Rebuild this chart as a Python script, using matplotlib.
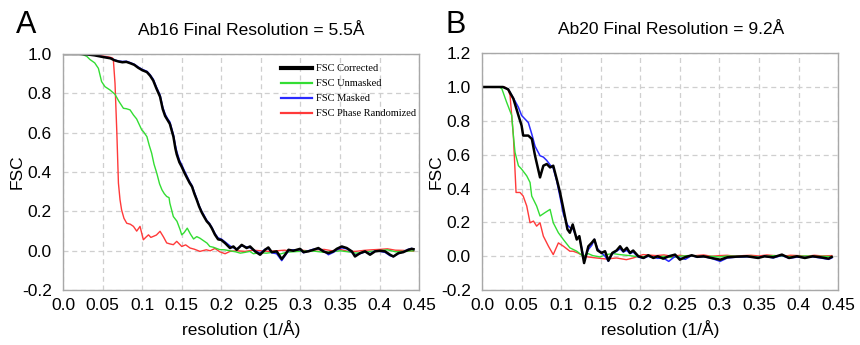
import matplotlib.pyplot as plt

plt.rcParams['font.family'] = ['Liberation Sans', 'DejaVu Sans']

# ---------------- panel A : Ab16 ----------------
a_corr_x = [0.000, 0.020, 0.030, 0.040, 0.050, 0.060, 0.065, 0.070, 0.075, 0.080, 0.085, 0.090, 0.095, 0.100,
            0.106, 0.110, 0.114, 0.118, 0.1226, 0.126, 0.129, 0.132, 0.135, 0.1395, 0.142, 0.1437, 0.147, 0.150,
            0.153, 0.156, 0.160, 0.163, 0.166, 0.169, 0.172, 0.1753, 0.178, 0.1816, 0.185, 0.188, 0.192, 0.196,
            0.200, 0.2048, 0.211, 0.2153, 0.2195, 0.2258, 0.232, 0.2364, 0.2427, 0.249, 0.2553, 0.2595, 0.2638,
            0.270, 0.2764, 0.2806, 0.285, 0.291, 0.2996, 0.304, 0.310, 0.3164, 0.3227, 0.329, 0.3354, 0.3417,
            0.346, 0.3523, 0.3586, 0.365, 0.369, 0.3754, 0.3817, 0.388, 0.3944, 0.4007, 0.407, 0.4133, 0.4175,
            0.4238, 0.430, 0.4365, 0.4407, 0.443]
a_corr_y = [1.000, 1.000, 0.998, 0.993, 0.985, 0.978, 0.968, 0.962, 0.958, 0.960, 0.953, 0.945, 0.930, 0.918,
            0.908, 0.890, 0.865, 0.825, 0.783, 0.720, 0.685, 0.665, 0.645, 0.580, 0.520, 0.490, 0.450, 0.427,
            0.400, 0.376, 0.345, 0.326, 0.290, 0.259, 0.225, 0.195, 0.175, 0.150, 0.135, 0.115, 0.082, 0.058,
            0.055, 0.039, 0.014, 0.022, 0.005, 0.030, 0.014, 0.022, -0.003, -0.020, 0.005, 0.017, -0.007,
            -0.003, -0.042, -0.020, 0.005, 0.000, 0.010, -0.007, -0.003, 0.005, 0.014, -0.003, -0.012, -0.003,
            0.010, 0.022, 0.014, -0.003, -0.029, -0.012, -0.003, -0.020, -0.003, 0.000, -0.003, -0.020, -0.029,
            -0.012, -0.007, 0.005, 0.010, 0.008]
a_mask_y = [1.000, 1.000, 0.998, 0.994, 0.986, 0.979, 0.970, 0.964, 0.962, 0.963, 0.956, 0.948, 0.934, 0.922,
            0.912, 0.895, 0.872, 0.832, 0.792, 0.730, 0.695, 0.672, 0.655, 0.590, 0.535, 0.505, 0.462, 0.437,
            0.410, 0.385, 0.352, 0.332, 0.298, 0.265, 0.230, 0.200, 0.182, 0.155, 0.140, 0.120, 0.088, 0.065,
            0.060, 0.045, 0.025, 0.015, 0.010, 0.025, 0.020, 0.015, 0.000, -0.012, 0.008, 0.012, -0.010,
            -0.015, -0.050, -0.025, 0.000, 0.005, 0.005, -0.010, 0.000, 0.008, 0.010, 0.000, -0.020, -0.008,
            0.005, 0.015, 0.010, -0.008, -0.022, -0.015, -0.005, -0.015, 0.000, -0.003, -0.008, -0.025, -0.030,
            -0.015, -0.005, 0.008, 0.012, 0.008]

a_unm_x = [0.000, 0.0215, 0.025, 0.030, 0.034, 0.040, 0.0447, 0.0487, 0.053, 0.0594, 0.0657, 0.0705, 0.0763,
           0.080, 0.0847, 0.089, 0.093, 0.0995, 0.1015, 0.106, 0.109, 0.112, 0.115, 0.1185, 0.122, 0.125, 0.128,
           0.131, 0.134, 0.135, 0.1394, 0.144, 0.148, 0.150, 0.153, 0.157, 0.161, 0.165, 0.169, 0.173, 0.178,
           0.182, 0.1855, 0.190, 0.198, 0.204, 0.211, 0.218, 0.224, 0.230, 0.236, 0.2406, 0.248, 0.257, 0.265,
           0.274, 0.282, 0.290, 0.300, 0.310, 0.320, 0.330, 0.340, 0.350, 0.360, 0.370, 0.380, 0.390, 0.400,
           0.410, 0.420, 0.430, 0.443]
a_unm_y = [1.000, 1.000, 0.997, 0.988, 0.972, 0.955, 0.927, 0.860, 0.834, 0.817, 0.795, 0.760, 0.724,
           0.722, 0.716, 0.690, 0.670, 0.614, 0.606, 0.580, 0.535, 0.496, 0.440, 0.394, 0.340, 0.310, 0.290,
           0.276, 0.270, 0.242, 0.174, 0.150, 0.107, 0.081, 0.092, 0.115, 0.085, 0.060, 0.072, 0.064, 0.050,
           0.039, 0.022, 0.018, 0.006, 0.005, 0.000, -0.005, -0.012, -0.008, -0.003, -0.015, -0.010, -0.012, -0.008,
           -0.017, -0.008, -0.005, -0.003, 0.000, -0.003, -0.008, -0.005, 0.000, -0.005, -0.012, -0.008, -0.003, 0.000,
           0.005, -0.005, -0.003, 0.000]

a_rand_x = [0.000, 0.030, 0.040, 0.050, 0.058, 0.0625, 0.0636, 0.0657, 0.068, 0.070, 0.072, 0.074, 0.077,
            0.0805, 0.085, 0.089, 0.0931, 0.0973, 0.1015, 0.105, 0.108, 0.111, 0.114, 0.118, 0.1226, 0.127,
            0.131, 0.135, 0.1394, 0.1437, 0.150, 0.155, 0.1606, 0.166, 0.173, 0.181, 0.186, 0.192, 0.198, 0.2048,
            0.211, 0.220, 0.230, 0.240, 0.250, 0.260, 0.270, 0.280, 0.290, 0.300, 0.310, 0.320, 0.330, 0.340,
            0.350, 0.360, 0.370, 0.380, 0.390, 0.400, 0.410, 0.420, 0.430, 0.443]
a_rand_y = [1.000, 1.000, 0.996, 0.990, 0.985, 0.980, 0.970, 0.850, 0.600, 0.344, 0.260, 0.208, 0.165,
            0.140, 0.135, 0.124, 0.100, 0.124, 0.056, 0.070, 0.081, 0.068, 0.073, 0.080, 0.099, 0.070,
            0.040, 0.035, 0.031, 0.048, 0.022, 0.030, 0.014, 0.008, -0.003, 0.005, 0.000, 0.012, -0.005, -0.015,
            -0.003, 0.000, -0.003, 0.003, 0.000, -0.003, 0.000, 0.003, -0.002, 0.003, 0.000, 0.005, 0.007, 0.000,
            0.007, -0.003, -0.003, 0.002, 0.005, 0.007, 0.010, 0.003, 0.002, -0.002]

# ---------------- panel B : Ab20 ----------------
b_corr_x = [0.000, 0.0265, 0.033, 0.0396, 0.046, 0.050, 0.052, 0.0585, 0.063, 0.067, 0.0733, 0.0775, 0.0818,
            0.086, 0.090, 0.0944, 0.0986, 0.103, 0.108, 0.111, 0.1146, 0.1197, 0.123, 0.126, 0.129, 0.1344,
            0.1387, 0.142, 0.146, 0.151, 0.1555, 0.1597, 0.1647, 0.170, 0.1745, 0.1786, 0.183, 0.187, 0.191,
            0.1976, 0.204, 0.210, 0.2166, 0.222, 0.229, 0.236, 0.244, 0.250, 0.257, 0.265, 0.272, 0.280, 0.290,
            0.301, 0.310, 0.322, 0.335, 0.349, 0.357, 0.368, 0.379, 0.388, 0.398, 0.408, 0.418, 0.428, 0.438,
            0.442]
b_corr_y = [1.000, 1.000, 0.986, 0.931, 0.832, 0.772, 0.713, 0.713, 0.693, 0.594, 0.466, 0.535, 0.545,
            0.525, 0.535, 0.456, 0.377, 0.277, 0.159, 0.139, 0.188, 0.099, 0.119, 0.040, -0.040, 0.059,
            0.080, 0.099, 0.035, 0.020, 0.030, -0.026, 0.020, 0.034, 0.059, 0.030, 0.050, 0.020, 0.034,
            0.000, -0.010, 0.006, -0.010, 0.000, -0.014, 0.000, 0.010, -0.020, -0.005, 0.006, -0.003, 0.000, -0.010,
            -0.020, -0.006, -0.002, 0.000, -0.010, 0.000, -0.006, 0.010, -0.010, 0.000, -0.010, 0.000, -0.006, -0.014,
            -0.004]
b_mask_y = [1.000, 1.000, 0.988, 0.935, 0.880, 0.832, 0.822, 0.790, 0.720, 0.650, 0.594, 0.586, 0.566,
            0.540, 0.520, 0.445, 0.350, 0.245, 0.185, 0.170, 0.165, 0.110, 0.112, 0.050, -0.020, 0.040,
            0.065, 0.100, 0.045, 0.020, 0.000, -0.030, 0.015, 0.030, 0.044, 0.025, 0.035, 0.015, 0.025,
            -0.005, -0.012, 0.000, -0.005, -0.012, -0.010, -0.030, 0.000, -0.010, -0.018, 0.005, -0.006, -0.002, -0.012,
            -0.030, -0.010, -0.005, -0.003, -0.008, 0.000, -0.010, 0.005, -0.012, -0.005, -0.008, -0.003, -0.010, -0.018,
            -0.010]

b_unm_x = [0.000, 0.022, 0.025, 0.031, 0.0375, 0.0396, 0.0417, 0.046, 0.050, 0.0565, 0.0607, 0.0628, 0.069,
           0.0733, 0.0796, 0.086, 0.090, 0.0965, 0.1028, 0.111, 0.1197, 0.128, 0.134, 0.140, 0.149, 0.157,
           0.1656, 0.174, 0.1866, 0.199, 0.210, 0.220, 0.230, 0.240, 0.250, 0.260, 0.270, 0.280, 0.290, 0.300,
           0.310, 0.320, 0.330, 0.340, 0.350, 0.360, 0.370, 0.380, 0.390, 0.400, 0.410, 0.420, 0.430, 0.442]
b_unm_y = [1.000, 1.000, 0.990, 0.911, 0.832, 0.713, 0.614, 0.535, 0.515, 0.475, 0.436, 0.356, 0.297,
           0.238, 0.258, 0.277, 0.198, 0.139, 0.099, 0.050, 0.030, 0.000, 0.016, 0.004, -0.004, 0.010,
           0.016, 0.010, 0.004, -0.004, 0.000, -0.006, 0.000, -0.008, 0.000, 0.004, 0.000, -0.004, 0.000, -0.004,
           0.002, 0.000, -0.002, 0.000, -0.004, 0.000, 0.004, 0.000, -0.002, 0.000, 0.002, -0.002, 0.000, -0.002]

b_rand_x = [0.000, 0.0287, 0.033, 0.0354, 0.0396, 0.043, 0.048, 0.052, 0.0565, 0.0607, 0.065, 0.069, 0.0733,
            0.0775, 0.084, 0.090, 0.0965, 0.103, 0.111, 0.115, 0.121, 0.1276, 0.134, 0.1445, 0.157, 0.170,
            0.1824, 0.191, 0.2035, 0.220, 0.230, 0.240, 0.250, 0.260, 0.270, 0.280, 0.290, 0.300, 0.310, 0.320,
            0.330, 0.340, 0.350, 0.360, 0.370, 0.380, 0.390, 0.400, 0.410, 0.420, 0.430, 0.442]
b_rand_y = [1.000, 1.000, 0.985, 0.950, 0.713, 0.377, 0.377, 0.356, 0.297, 0.198, 0.208, 0.178, 0.198,
            0.119, 0.059, 0.010, 0.079, 0.059, 0.030, 0.030, 0.020, 0.004, -0.004, -0.010, -0.016, -0.010,
            -0.020, -0.010, 0.010, 0.004, 0.008, 0.000, 0.006, 0.000, 0.004, 0.008, 0.000, 0.004, 0.006, 0.000,
            0.004, 0.006, 0.002, 0.008, 0.004, 0.000, 0.006, 0.004, 0.000, 0.006, 0.002, 0.004]

x_ticks = [0.0, 0.05, 0.1, 0.15, 0.2, 0.25, 0.3, 0.35, 0.4, 0.45]
x_ticklabels = ['0.0', '0.05', '0.1', '0.15', '0.2', '0.25', '0.3', '0.35', '0.4', '0.45']
labels = ['FSC Corrected', 'FSC Unmasked', 'FSC Masked', 'FSC Phase Randomized']

c_black, c_green, c_blue, c_red = '#000000', '#33dd33', '#2a2aff', '#ff3a3a'

fig = plt.figure(figsize=(8.6, 3.45), dpi=100)
axA = fig.add_axes([0.0733, 0.159, 0.414, 0.6845])
axB = fig.add_axes([0.5605, 0.159, 0.414, 0.687])


def style(ax, ylim, yticks):
    ax.set_xlim(0, 0.45)
    ax.set_ylim(*ylim)
    ax.set_xticks(x_ticks)
    ax.set_xticklabels(x_ticklabels)
    ax.set_yticks(yticks)
    ax.set_yticklabels(['%.1f' % v for v in yticks])
    ax.tick_params(length=0, labelsize=12.5, pad=6)
    ax.tick_params(axis='y', pad=8)
    ax.grid(True, color='#cfcfcf', linestyle=(0, (4, 3)), linewidth=0.9)
    ax.set_axisbelow(True)
    for s in ax.spines.values():
        s.set_color('#a8a8a8')
        s.set_linewidth(1.0)
    ax.set_xlabel('resolution (1/Å)', fontsize=12.5, labelpad=5)
    ax.set_ylabel('FSC', fontsize=12.5, labelpad=-2)


# panel A
axA.plot(a_rand_x, a_rand_y, color=c_red, lw=1.0)
axA.plot(a_unm_x, a_unm_y, color=c_green, lw=1.0)
axA.plot(a_corr_x, a_mask_y, color=c_blue, lw=1.1)
axA.plot(a_corr_x, a_corr_y, color=c_black, lw=1.8)
style(axA, (-0.2, 1.0), [-0.2, 0.0, 0.2, 0.4, 0.6, 0.8, 1.0])
axA.set_title('Ab16 Final Resolution = 5.5Å', fontsize=12.5, x=0.53, pad=14)

hA = [plt.Line2D([], [], color=c_black, lw=3),
      plt.Line2D([], [], color=c_green, lw=1.6),
      plt.Line2D([], [], color=c_blue, lw=1.6),
      plt.Line2D([], [], color=c_red, lw=1.6)]
axA.legend(hA, labels, loc='upper left', bbox_to_anchor=(0.6, 0.975), frameon=False,
           prop={'family': 'Liberation Serif', 'size': 7.5}, handlelength=3.0,
           handletextpad=0.4, labelspacing=0.55, borderaxespad=0)

# panel B
axB.plot(b_rand_x, b_rand_y, color=c_red, lw=1.0)
axB.plot(b_unm_x, b_unm_y, color=c_green, lw=1.0)
axB.plot(b_corr_x, b_mask_y, color=c_blue, lw=1.1)
axB.plot(b_corr_x, b_corr_y, color=c_black, lw=1.8)
style(axB, (-0.2, 1.2), [-0.2, 0.0, 0.2, 0.4, 0.6, 0.8, 1.0, 1.2])
axB.set_title('Ab20 Final Resolution = 9.2Å', fontsize=12.5, x=0.53, pad=14)

fig.text(0.019, 0.905, 'A', fontsize=22)
fig.text(0.518, 0.905, 'B', fontsize=22)

fig.savefig('out.png', dpi=100)
